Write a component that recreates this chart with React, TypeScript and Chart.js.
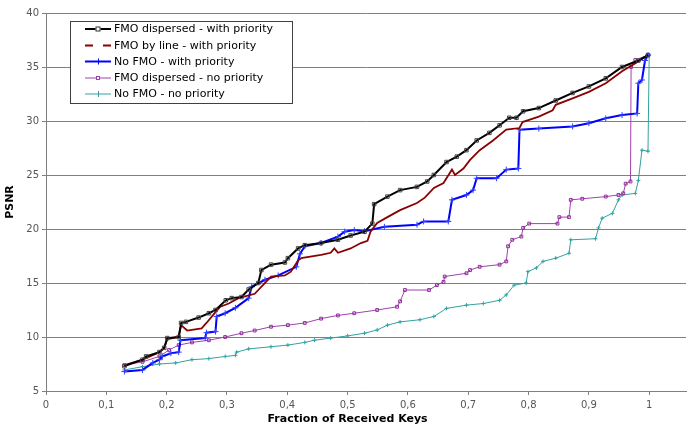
import React, { useEffect, useRef } from 'react';
import { Chart, registerables } from 'chart.js';

Chart.register(...registerables);

const seriesLabels = [
  'FMO dispersed - with priority',
  'FMO by line - with priority',
  'No FMO - with priority',
  'FMO dispersed - no priority',
  'No FMO - no priority',
];
const seriesColors = ['#000000', '#8B0000', '#0000FF', '#A040B0', '#35A0A0'];

const xTitle = 'Fraction of Received Keys';
const yTitle = 'PSNR';
const xTickValues = [0, 0.1, 0.2, 0.3, 0.4, 0.5, 0.6, 0.7, 0.8, 0.9, 1];

const blackX = [0.13, 0.16, 0.166, 0.188, 0.196, 0.201, 0.22, 0.224, 0.232, 0.253, 0.27, 0.281, 0.298, 0.308, 0.324, 0.336, 0.352, 0.357, 0.373, 0.396, 0.401, 0.418, 0.429, 0.456, 0.484, 0.505, 0.528, 0.541, 0.544, 0.566, 0.587, 0.615, 0.632, 0.643, 0.664, 0.681, 0.697, 0.714, 0.735, 0.752, 0.768, 0.78, 0.791, 0.817, 0.845, 0.873, 0.9, 0.928, 0.955, 0.982, 0.998];
const blackY = [7.3, 7.9, 8.2, 8.6, 9.0, 9.9, 10.0, 11.3, 11.4, 11.8, 12.2, 12.5, 13.4, 13.6, 13.7, 14.4, 15.0, 16.2, 16.7, 16.9, 17.3, 18.2, 18.5, 18.7, 19.0, 19.4, 19.75, 20.5, 22.3, 23.0, 23.6, 23.9, 24.4, 25.0, 26.2, 26.7, 27.3, 28.2, 28.9, 29.6, 30.3, 30.3, 30.9, 31.2, 31.9, 32.6, 33.2, 33.95, 35.0, 35.6, 36.1];

const redX = [0.13, 0.16, 0.188, 0.196, 0.201, 0.22, 0.224, 0.234, 0.258, 0.266, 0.281, 0.289, 0.303, 0.319, 0.346, 0.373, 0.396, 0.406, 0.418, 0.423, 0.456, 0.472, 0.478, 0.484, 0.505, 0.522, 0.533, 0.538, 0.549, 0.566, 0.587, 0.615, 0.628, 0.643, 0.659, 0.673, 0.678, 0.692, 0.703, 0.719, 0.741, 0.763, 0.785, 0.79, 0.817, 0.84, 0.845, 0.873, 0.9, 0.928, 0.955, 0.982, 0.998];
const redY = [7.4, 7.9, 8.6, 9.0, 9.8, 10.0, 11.1, 10.6, 10.8, 11.3, 12.3, 12.8, 13.1, 13.6, 14.0, 15.6, 15.7, 16.05, 17.1, 17.3, 17.6, 17.8, 18.2, 17.8, 18.2, 18.7, 18.9, 19.75, 20.55, 21.1, 21.75, 22.4, 22.9, 23.8, 24.25, 25.5, 25.0, 25.6, 26.4, 27.3, 28.2, 29.2, 29.35, 29.9, 30.4, 31.0, 31.5, 32.1, 32.7, 33.5, 34.6, 35.5, 36.1];

const blueX = [0.13, 0.16, 0.177, 0.188, 0.193, 0.207, 0.22, 0.223, 0.264, 0.266, 0.281, 0.283, 0.297, 0.314, 0.336, 0.341, 0.363, 0.385, 0.415, 0.421, 0.429, 0.456, 0.484, 0.495, 0.511, 0.528, 0.561, 0.615, 0.626, 0.667, 0.673, 0.697, 0.708, 0.714, 0.747, 0.763, 0.783, 0.785, 0.817, 0.873, 0.9, 0.928, 0.955, 0.98, 0.982, 0.988, 0.993, 0.998];
const blueY = [6.8, 6.95, 7.6, 7.9, 8.2, 8.5, 8.6, 9.7, 9.9, 10.4, 10.5, 11.9, 12.2, 12.7, 13.6, 14.65, 15.3, 15.7, 16.5, 17.7, 18.4, 18.7, 19.3, 19.75, 19.9, 19.8, 20.2, 20.4, 20.7, 20.7, 22.7, 23.15, 23.6, 24.7, 24.7, 25.5, 25.6, 29.2, 29.3, 29.5, 29.8, 30.25, 30.55, 30.7, 33.5, 33.8, 35.6, 36.1];

const magentaX = [0.13, 0.16, 0.188, 0.204, 0.22, 0.242, 0.27, 0.297, 0.324, 0.346, 0.373, 0.401, 0.429, 0.456, 0.484, 0.511, 0.549, 0.582, 0.587, 0.595, 0.635, 0.648, 0.659, 0.661, 0.697, 0.703, 0.719, 0.752, 0.763, 0.766, 0.773, 0.788, 0.791, 0.801, 0.848, 0.851, 0.867, 0.87, 0.889, 0.928, 0.949, 0.957, 0.961, 0.969, 0.97, 0.977, 0.998];
const magentaY = [7.4, 7.7, 8.2, 8.8, 9.25, 9.5, 9.7, 10.0, 10.35, 10.6, 10.95, 11.1, 11.3, 11.7, 12.0, 12.2, 12.5, 12.8, 13.3, 14.35, 14.35, 14.8, 15.1, 15.6, 15.9, 16.2, 16.5, 16.7, 17.0, 18.4, 19.0, 19.3, 20.1, 20.5, 20.5, 21.1, 21.1, 22.7, 22.8, 23.0, 23.15, 23.3, 24.2, 24.4, 35.0, 35.65, 36.1];

const tealX = [0.13, 0.16, 0.188, 0.215, 0.242, 0.27, 0.297, 0.314, 0.316, 0.336, 0.373, 0.401, 0.429, 0.445, 0.472, 0.5, 0.528, 0.549, 0.566, 0.587, 0.62, 0.643, 0.664, 0.697, 0.725, 0.752, 0.763, 0.776, 0.796, 0.799, 0.813, 0.824, 0.845, 0.867, 0.87, 0.911, 0.916, 0.922, 0.939, 0.949, 0.955, 0.977, 0.982, 0.988, 0.998, 1.0];
const tealY = [6.95, 7.25, 7.5, 7.6, 7.9, 8.0, 8.2, 8.3, 8.6, 8.9, 9.1, 9.25, 9.5, 9.7, 9.9, 10.1, 10.35, 10.65, 11.1, 11.4, 11.6, 11.9, 12.65, 12.95, 13.1, 13.4, 13.9, 14.8, 15.0, 16.05, 16.4, 17.0, 17.3, 17.75, 19.0, 19.1, 20.1, 21.0, 21.45, 22.7, 23.15, 23.3, 24.5, 27.3, 27.2, 36.1];

const FONT = '"DejaVu Sans", Verdana, sans-serif';

function pts(xs: number[], ys: number[]) {
  return xs.map((x, i) => ({ x, y: ys[i] }));
}

const overlayPlugin = {
  id: 'overlay',
  afterDraw(chart: any) {
    const ctx = chart.ctx as CanvasRenderingContext2D;
    const xs = chart.scales.x;
    const area = chart.chartArea;
    ctx.save();
    // axis titles
    ctx.fillStyle = '#000';
    ctx.font = `bold 11px ${FONT}`;
    ctx.textAlign = 'center';
    ctx.textBaseline = 'middle';
    ctx.fillText(xTitle, (xs.getPixelForValue(0) + xs.getPixelForValue(1)) / 2, 419);
    ctx.save();
    ctx.translate(10, (area.top + area.bottom) / 2);
    ctx.rotate(-Math.PI / 2);
    ctx.fillText(yTitle, 0, 0);
    ctx.restore();

    // legend
    const bx = 70.5, by = 21.5, bw = 222, bh = 82;
    ctx.fillStyle = '#fff';
    ctx.fillRect(bx, by, bw, bh);
    ctx.strokeStyle = '#404040';
    ctx.lineWidth = 1;
    ctx.strokeRect(bx, by, bw, bh);
    const rows = [29, 45.5, 61.5, 78, 94];
    const widths = [2, 2, 2, 1, 1];
    ctx.font = `11px ${FONT}`;
    ctx.textAlign = 'left';
    rows.forEach((ry, i) => {
      const c = seriesColors[i];
      ctx.strokeStyle = c;
      ctx.lineWidth = widths[i];
      ctx.beginPath();
      if (i === 1) {
        ctx.moveTo(85, ry); ctx.lineTo(93, ry);
        ctx.moveTo(103, ry); ctx.lineTo(111, ry);
      } else {
        ctx.moveTo(85, ry); ctx.lineTo(111, ry);
      }
      ctx.stroke();
      ctx.lineWidth = 1;
      if (i === 0 || i === 3) {
        const s = i === 0 ? 5 : 4;
        ctx.fillStyle = '#fff';
        ctx.fillRect(98 - s / 2, ry - s / 2, s, s);
        ctx.strokeStyle = i === 0 ? '#333' : c;
        ctx.strokeRect(98 - s / 2 + 0.5, ry - s / 2 + 0.5, s - 1, s - 1);
      } else if (i === 2 || i === 4) {
        ctx.beginPath();
        ctx.moveTo(98.5, ry - 3); ctx.lineTo(98.5, ry + 3);
        ctx.stroke();
      }
      ctx.fillStyle = '#000';
      ctx.fillText(seriesLabels[i], 114, ry + 0.5);
    });
    ctx.restore();
  },
};

export default function App() {
  const ref = useRef<HTMLCanvasElement>(null);
  useEffect(() => {
    if (!ref.current) return;
    const chart = new Chart(ref.current, {
      type: 'line',
      data: {
        datasets: [
          {
            label: seriesLabels[0], data: pts(blackX, blackY), borderColor: seriesColors[0], borderWidth: 2,
            pointStyle: 'rect', pointRadius: 2.5, pointBorderColor: '#444', pointBackgroundColor: 'rgba(255,255,255,0)', pointBorderWidth: 1,
          },
          {
            label: seriesLabels[1], data: pts(redX, redY), borderColor: seriesColors[1], borderWidth: 1.8,
            pointRadius: 0,
          },
          {
            label: seriesLabels[2], data: pts(blueX, blueY), borderColor: seriesColors[2], borderWidth: 2,
            pointStyle: 'cross', pointRadius: 3, pointBorderColor: '#3040FF', pointBorderWidth: 1,
          },
          {
            label: seriesLabels[3], data: pts(magentaX, magentaY), borderColor: seriesColors[3], borderWidth: 1,
            pointStyle: 'rect', pointRadius: 2, pointBorderColor: '#90309A', pointBackgroundColor: 'rgba(255,255,255,0)', pointBorderWidth: 1,
          },
          {
            label: seriesLabels[4], data: pts(tealX, tealY), borderColor: seriesColors[4], borderWidth: 1,
            pointStyle: 'cross', pointRadius: 2, pointBorderColor: seriesColors[4], pointBorderWidth: 1,
          },
        ] as any,
      },
      options: {
        animation: false,
        responsive: false,
        events: [],
        layout: { padding: { top: 13, left: 0, right: 0, bottom: 0 } },
        elements: { line: { tension: 0 } },
        plugins: { legend: { display: false }, tooltip: { enabled: false } },
        scales: {
          x: {
            type: 'linear',
            min: 0,
            max: 1.061,
            afterBuildTicks: (s: any) => { s.ticks = xTickValues.map((v) => ({ value: v })); },
            afterFit: (s: any) => { s.height = 39; },
            ticks: {
              autoSkip: false,
              maxRotation: 0,
              color: '#555',
              padding: 4,
              font: { family: FONT, size: 10 },
              callback: (v: any) => String(Number(Number(v).toFixed(1))).replace('.', ','),
            },
            grid: { drawOnChartArea: false, drawTicks: true, tickLength: 4, color: '#808080' },
            border: { display: true, color: '#808080' },
          },
          y: {
            type: 'linear',
            min: 5,
            max: 40,
            afterFit: (s: any) => { s.width = 46; },
            ticks: {
              stepSize: 5,
              color: '#555',
              padding: 3,
              font: { family: FONT, size: 10 },
            },
            grid: { color: '#808080', tickLength: 4 },
            border: { display: true, color: '#808080' },
          },
        },
      } as any,
      plugins: [overlayPlugin],
    });
    return () => chart.destroy();
  }, []);
  return (
    <div style={{ position: 'fixed', left: 0, top: 0, width: 691, height: 430, background: '#fff' }}>
      <canvas ref={ref} width={691} height={430} style={{ display: 'block' }} />
    </div>
  );
}
